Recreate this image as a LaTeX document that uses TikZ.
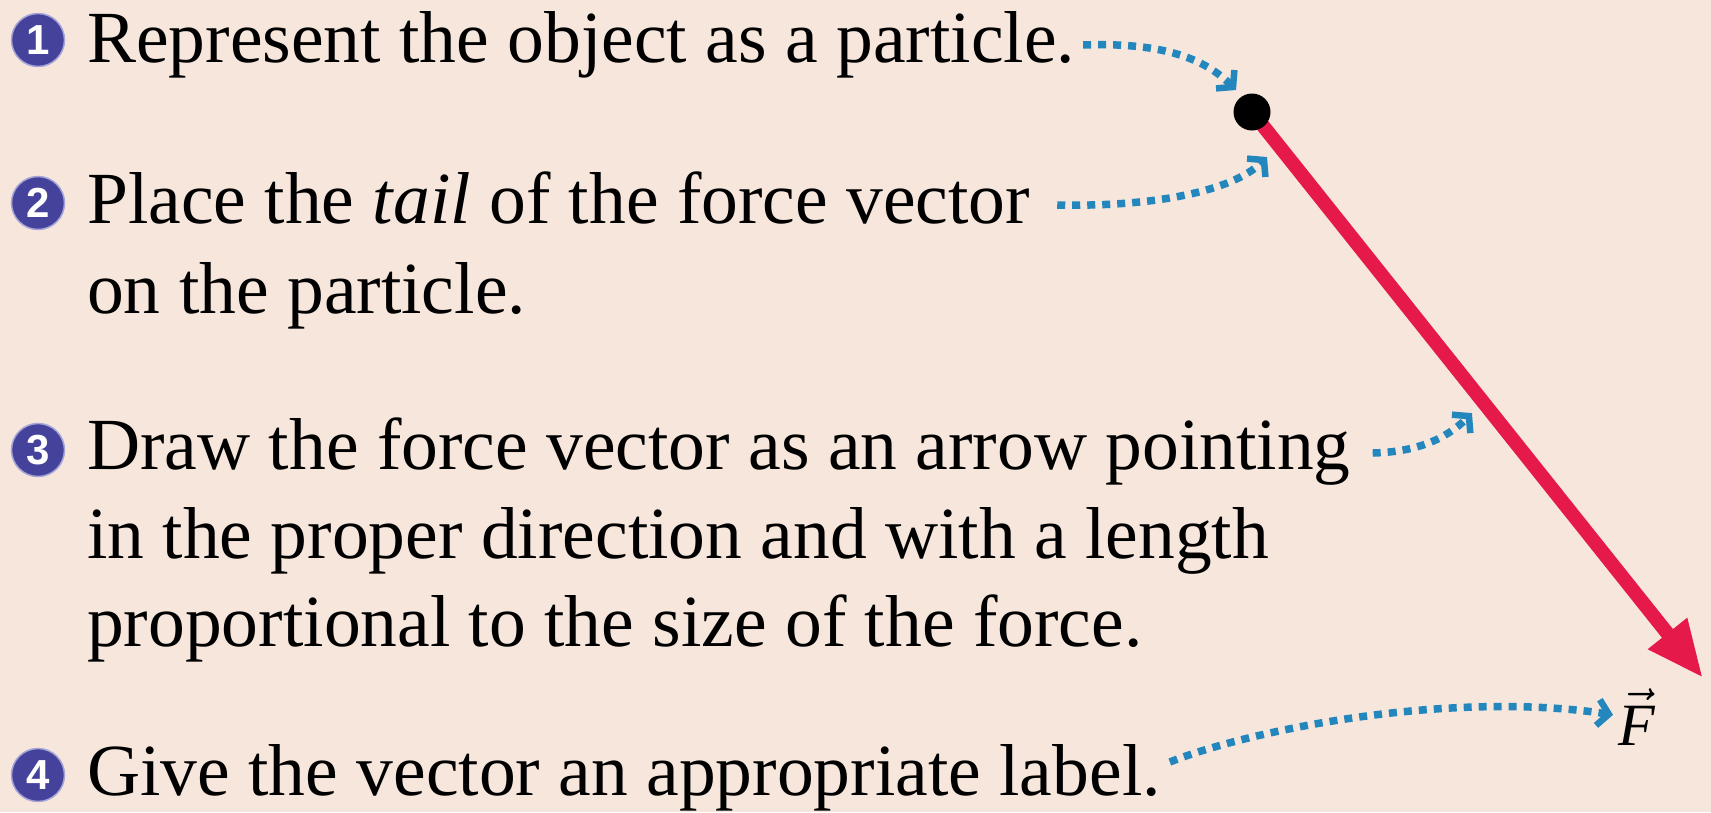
\documentclass[tikz,border=0pt]{standalone}
\usepackage{graphicx}
\usepackage{fontspec}
\setmainfont{Liberation Serif}
\newfontfamily\numfont{Liberation Sans}
\usetikzlibrary{arrows.meta,calc}
\definecolor{bgpeach}{RGB}{246,230,220}
\definecolor{vecred}{RGB}{230,25,75}
\definecolor{dotblue}{RGB}{35,135,190}
\definecolor{numblue}{RGB}{68,66,155}
\definecolor{numrim}{RGB}{165,165,215}
\pgfdeclarelayer{back}
\pgfsetlayers{back,main}
\begin{document}
\begin{tikzpicture}[x=1pt,y=-1pt,
  txt/.style={anchor=base west,inner sep=0pt,font=\fontsize{73.5}{89}\selectfont},
  numbadge/.style={circle,fill=numblue,draw=numrim,line width=1.5pt,minimum size=53pt,inner sep=0pt,text=white,font=\numfont\bfseries\fontsize{42}{42}\selectfont},
  pointer/.style={draw=dotblue,line width=7.5pt,dash pattern=on 8pt off 7pt,-{Straight Barb[sharp,length=11pt,width=26pt,line width=6.5pt]}},
  forcevec/.style={draw=vecred,line width=14pt,-{Triangle[length=57pt,width=46pt]}},
  particle/.style={circle,fill=black,minimum size=37pt,inner sep=0pt},
  flabel/.style={anchor=base west,inner sep=0pt}
]
\useasboundingbox (0,0) rectangle (1711,812);

% numbered badges
\node[numbadge] (n1) at (38,40) {1};
\node[numbadge] (n2) at (38,203) {2};
\node[numbadge] (n3) at (38,450) {3};
\node[numbadge] (n4) at (38,775) {4};

% texts
\node[txt] (l1) at (87,62) {Represent the object as a particle.};
\node[txt] (l2a) at (87,223) {Place the \textit{tail} of the force vector};
\node[txt] (l2b) at (87,313) {on the particle.};
\node[txt] (l3a) at (87,469) {Draw the force vector as an arrow pointing};
\node[txt] (l3b) at (87,558) {in the proper direction and with a length};
\node[txt] (l3c) at (87,646) {proportional to the size of the force.};
\node[txt] (l4) at (87,795) {Give the vector an appropriate label.};

% particle, force vector and its label
\node[particle] (p) at (1252,112) {};
\coordinate (ftip) at (1703,678);
\node[flabel] (F) at (1618,745) {\scalebox{6}{\fontsize{10}{10}\selectfont$\vec{\mbox{\textit{F}}}$}};

\begin{pgfonlayer}{back}
  \fill[bgpeach] (0,0) rectangle (1711,812);
  \draw[forcevec] (p.center) -- (ftip);
\end{pgfonlayer}

% dotted pointers
\draw[pointer] ($(l1.base east)+(8,-17)$) .. controls (1165,42) and (1206,60) .. ($(p.center)+(-16,-22)$);
\draw[pointer] ($(l2a.base east)+(27,-18)$) .. controls (1150,207) and (1232,192) .. ($(p.center)+(15,45)$);
\draw[pointer] ($(l3a.base east)+(22,-16)$) .. controls (1415,452) and (1445,440) .. ($(p.center)!0.532!(ftip)+(-20,0)$);
\draw[pointer] ($(l4.base east)+(9,-33)$) .. controls (1250,730) and (1450,690) .. ($(F.west)+(-5,-2)$);
\end{tikzpicture}
\end{document}
